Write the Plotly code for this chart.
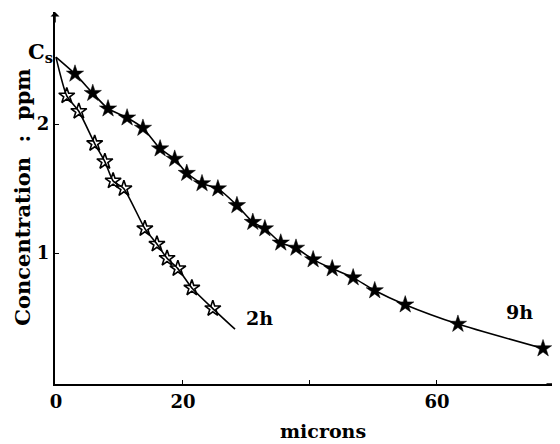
import plotly.graph_objects as go

# Data (microns vs ppm)
cs_value = 2.52
x_9h = [3.0, 5.8, 8.2, 11.2, 13.7, 16.4, 18.7, 20.6, 23.0, 25.5, 28.5, 31.0, 32.9,
        35.4, 37.8, 40.5, 43.5, 46.8, 50.2, 55.0, 63.3, 76.7]
y_9h = [2.39, 2.24, 2.12, 2.05, 1.97, 1.81, 1.73, 1.62, 1.54, 1.50, 1.37, 1.24, 1.19,
        1.08, 1.04, 0.95, 0.88, 0.81, 0.71, 0.60, 0.45, 0.26]
x_2h = [1.7, 3.6, 6.1, 7.7, 9.0, 10.7, 14.0, 15.9, 17.5, 19.2, 21.4, 24.7]
y_2h = [2.22, 2.10, 1.85, 1.71, 1.56, 1.50, 1.19, 1.07, 0.96, 0.88, 0.73, 0.57]
x_2h_end, y_2h_end = 28.2, 0.41
x_ticks = [0, 20, 40, 60]
x_tick_labels = ["0", "20", "", "60"]
y_ticks = [1, 2]
y_tick_labels = ["1", "2"]

FONT = "DejaVu Serif"
fig = go.Figure()

# smooth curves
fig.add_trace(go.Scatter(x=[0] + x_9h, y=[cs_value] + y_9h, mode="lines",
                         line=dict(color="black", width=1.6, shape="spline", smoothing=0.6),
                         showlegend=False, hoverinfo="skip"))
fig.add_trace(go.Scatter(x=[0] + x_2h + [x_2h_end], y=[cs_value] + y_2h + [y_2h_end], mode="lines",
                         line=dict(color="black", width=1.6, shape="spline", smoothing=0.6),
                         showlegend=False, hoverinfo="skip"))
# markers
fig.add_trace(go.Scatter(x=x_9h, y=y_9h, mode="markers",
                         marker=dict(symbol="star", size=13, color="black",
                                     line=dict(color="black", width=0.5)),
                         showlegend=False))
fig.add_trace(go.Scatter(x=x_2h, y=y_2h, mode="markers",
                         marker=dict(symbol="star-open", size=12, color="black",
                                     line=dict(color="black", width=1.6)),
                         showlegend=False))

tickfont = dict(family=FONT, size=18, color="black", weight="bold")
fig.update_xaxes(range=[-0.15, 78.9], showline=True, linecolor="black", linewidth=2,
                 showgrid=False, zeroline=False, tickvals=x_ticks, ticktext=x_tick_labels,
                 ticks="inside", ticklen=4, tickcolor="black", automargin=False,
                 tickfont=tickfont)
fig.update_yaxes(range=[-0.015, 2.87], showline=True, linecolor="black", linewidth=2,
                 showgrid=False, zeroline=False, tickvals=y_ticks, ticktext=y_tick_labels,
                 ticks="inside", ticklen=4, tickcolor="black", automargin=False,
                 tickfont=tickfont)

bold = dict(family=FONT, size=19, color="black", weight="bold")
annots = [
    dict(x=0, y=cs_value, xref="x", yref="y", text="C<sub>s</sub>", showarrow=False,
         xanchor="right", yanchor="middle", xshift=-1, yshift=5,
         font=dict(family=FONT, size=21, color="black", weight="bold")),
    dict(x=32.0, y=0.50, xref="x", yref="y", text="2h", showarrow=False, font=bold),
    dict(x=73.0, y=0.54, xref="x", yref="y", text="9h", showarrow=False, font=bold),
    # axis titles
    dict(x=0.534, y=-0.126, xref="paper", yref="paper", text="microns", showarrow=False,
         xanchor="center", yanchor="middle", font=dict(family=FONT, size=19, color="black", weight="bold")),
    dict(x=-0.064, y=0.503, xref="paper", yref="paper", text="Concentration  :  ppm",
         showarrow=False, textangle=-90, xanchor="center", yanchor="middle",
         font=dict(family=FONT, size=21, color="black", weight="bold")),
    # axis arrows
    dict(x=1, y=0, xref="paper", yref="paper", ax=-12, ay=0, axref="pixel", ayref="pixel",
         text="", showarrow=True, arrowhead=1, arrowsize=1, arrowwidth=1.5, arrowcolor="black"),
    dict(x=0, y=1, xref="paper", yref="paper", ax=0, ay=12, axref="pixel", ayref="pixel",
         text="", showarrow=True, arrowhead=1, arrowsize=1, arrowwidth=1.5, arrowcolor="black"),
]
# page body has an 8px margin; compensate so the plot lands where the reference has it
fig.update_layout(width=552, height=436, margin=dict(l=47, r=3, t=4, b=60),
                  plot_bgcolor="white", paper_bgcolor="white", annotations=annots)

fig.write_html("out.html")
